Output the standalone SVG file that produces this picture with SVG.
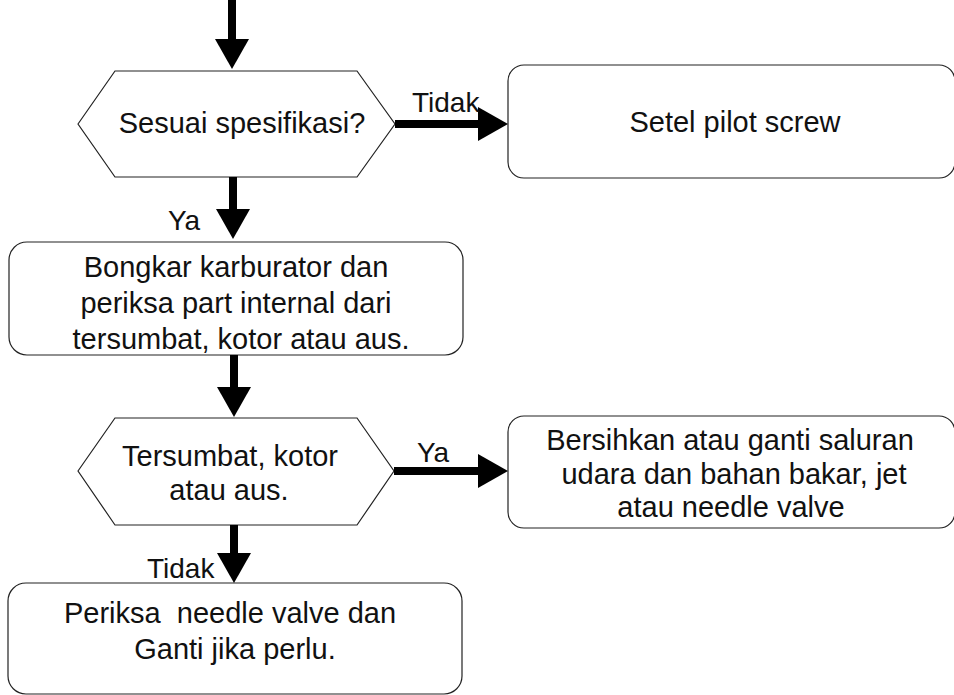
<svg xmlns="http://www.w3.org/2000/svg" width="954" height="695" viewBox="0 0 954 695">
  <style>
    .node { fill: #ffffff; stroke: #222222; stroke-width: 1.2; }
    .t { font-family: "Liberation Sans", Arial, sans-serif; font-size: 29px; fill: #111111; text-anchor: middle; white-space: pre; }
    .lbl { font-family: "Liberation Sans", Arial, sans-serif; font-size: 28px; fill: #111111; }
    .conn { stroke: #000000; stroke-width: 8; fill: none; marker-end: url(#head); }
  </style>
  <defs>
    <marker id="head" markerUnits="userSpaceOnUse" viewBox="0 0 30 34" markerWidth="30" markerHeight="34" refX="0" refY="17" orient="auto" overflow="visible">
      <path d="M0,0 L30,17 L0,34 Z" fill="#000000"/>
    </marker>
  </defs>
  <rect width="954" height="695" fill="#ffffff"/>

  <g id="hex1">
    <polygon class="node" points="78,124 115,71 357,71 395,124 357,177 115,177"/>
    <text class="t" x="242" y="133">Sesuai spesifikasi?</text>
  </g>
  <g id="box1">
    <rect class="node" x="508" y="65" width="447" height="113" rx="16"/>
    <text class="t" x="735" y="132">Setel pilot screw</text>
  </g>
  <g id="box2">
    <rect class="node" x="9" y="242" width="454" height="113" rx="18"/>
    <text class="t" x="236" y="277">Bongkar karburator dan</text>
    <text class="t" x="236" y="313">periksa part internal dari</text>
    <text class="t" x="241" y="349">tersumbat, kotor atau aus.</text>
  </g>
  <g id="hex2">
    <polygon class="node" points="78,471 115,418 357,418 394,471 357,525 115,525"/>
    <text class="t" x="230" y="466">Tersumbat, kotor</text>
    <text class="t" x="229" y="500">atau aus.</text>
  </g>
  <g id="box3">
    <rect class="node" x="508" y="416" width="447" height="112" rx="16"/>
    <text class="t" x="730" y="450">Bersihkan atau ganti saluran</text>
    <text class="t" x="734" y="484">udara dan bahan bakar, jet</text>
    <text class="t" x="731" y="517">atau needle valve</text>
  </g>
  <g id="box4">
    <rect class="node" x="8" y="583" width="454" height="111" rx="18"/>
    <text class="t" x="230" y="623">Periksa  needle valve dan</text>
    <text class="t" x="235" y="659">Ganti jika perlu.</text>
  </g>

  <g id="connectors">
    <line class="conn" x1="232" y1="0" x2="232" y2="39"/>
    <line class="conn" x1="233" y1="177" x2="233" y2="209"/>
    <line class="conn" x1="395" y1="124" x2="478" y2="124"/>
    <line class="conn" x1="234" y1="355" x2="234" y2="387"/>
    <line class="conn" x1="394" y1="471" x2="478" y2="471"/>
    <line class="conn" x1="234" y1="525" x2="234" y2="553"/>
    <text class="lbl" x="412" y="112">Tidak</text>
    <text class="lbl" x="168" y="230">Ya</text>
    <text class="lbl" x="417" y="462">Ya</text>
    <text class="lbl" x="147" y="578">Tidak</text>
  </g>
</svg>
